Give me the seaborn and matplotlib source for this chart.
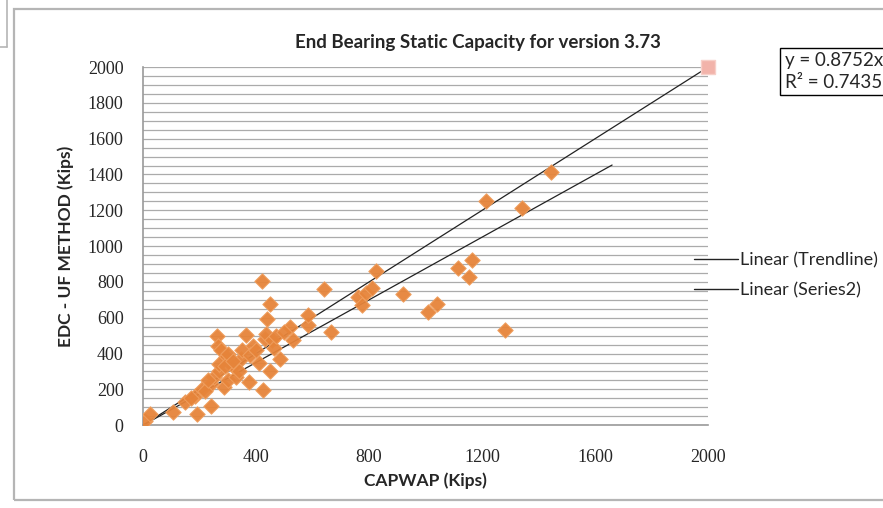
import matplotlib
matplotlib.use("Agg")
import matplotlib.pyplot as plt
import matplotlib.patches as mpatches
from matplotlib.lines import Line2D
import pandas as pd
import seaborn as sns

# CAPWAP vs EDC - UF method end bearing capacity (kips)
capwap = [7, 25, 105, 190, 240, 185, 210, 240, 250, 270, 285, 300, 330, 375, 425,
          260, 265, 275, 295, 310, 320, 345, 365, 390, 410, 430, 435, 440, 450, 455,
          465, 485, 520, 530, 585, 585, 420, 450, 640, 665, 760, 775, 790, 810, 825,
          920, 1010, 1040, 1115, 1155, 1165, 1215, 1280, 1340, 1445,
          150, 170, 220, 230, 270, 290, 300, 320, 340, 350, 380, 400, 470, 500]
edc = [25, 60, 75, 65, 105, 165, 200, 230, 270, 300, 215, 250, 270, 240, 195,
       500, 440, 420, 380, 350, 330, 370, 505, 440, 350, 480, 510, 595, 300, 475,
       430, 370, 550, 475, 560, 615, 805, 675, 760, 520, 715, 670, 740, 765, 860,
       730, 630, 675, 880, 830, 925, 1250, 530, 1215, 1415,
       130, 150, 190, 250, 340, 330, 400, 360, 300, 420, 390, 420, 500, 520]

# 1:1 reference series ("Trendline") and the fitted line through the origin
ref_x = [0, 2000]
ref_y = [0, 2000]
slope = 0.8752
r2 = 0.7435
fit_x = [0, 1660]
fit_y = [slope * v for v in fit_x]

x_ticks = [0, 400, 800, 1200, 1600, 2000]
y_ticks = [0, 200, 400, 600, 800, 1000, 1200, 1400, 1600, 1800, 2000]

df = pd.DataFrame({"CAPWAP": capwap, "EDC": edc})

sns.set_theme(style="white")
plt.rcParams["font.family"] = ["Lato", "DejaVu Sans"]

fig = plt.figure(figsize=(8.83, 5.08), dpi=100)
ax = fig.add_axes([0.162, 0.163, 0.640, 0.705])

# fine horizontal grid every 50 kips
for gy in range(0, 2001, 50):
    ax.axhline(gy, color="#ABABAB", lw=0.9, zorder=0)

sns.lineplot(x=ref_x, y=ref_y, ax=ax, color="#222222", lw=0.9, zorder=2)
sns.lineplot(x=fit_x, y=fit_y, ax=ax, color="#222222", lw=0.9, zorder=2)

sns.scatterplot(data=df, x="CAPWAP", y="EDC", ax=ax, marker="D", s=62,
                color="#E6843A", edgecolor="#F0A060", linewidth=0.7, alpha=0.95,
                zorder=3)
sns.scatterplot(x=ref_x[-1:], y=ref_y[-1:], ax=ax, marker="s", s=90,
                color="#F2B3AA", edgecolor="#F7CFC8", linewidth=1, zorder=3,
                clip_on=False)

ax.set_xlim(0, 2000)
ax.set_ylim(0, 2000)
ax.set_xticks(x_ticks)
ax.set_yticks(y_ticks)
ax.set_xticklabels([str(t) for t in x_ticks], family="Liberation Serif", fontsize=13)
ax.set_yticklabels([str(t) for t in y_ticks], family="Liberation Serif", fontsize=13)
ax.tick_params(axis="x", length=0, pad=17)
ax.tick_params(axis="y", length=0, pad=14)

for side in ["top", "right"]:
    ax.spines[side].set_visible(False)
for side in ["left", "bottom"]:
    ax.spines[side].set_color("#9A9A9A")
    ax.spines[side].set_linewidth(1.2)

ax.set_xlabel("CAPWAP (Kips)", fontsize=12.5, fontweight="bold", labelpad=5)
ax.set_ylabel("EDC - UF METHOD (Kips)", fontsize=12.5, fontweight="bold", labelpad=10)
ax.set_title("End Bearing Static Capacity for version 3.73", fontsize=13.5,
             fontweight="bold", pad=14, x=0.593)

handles = [Line2D([], [], color="#222222", lw=1),
           Line2D([], [], color="#222222", lw=1)]
fig.legend(handles, ["Linear (Trendline)", "Linear (Series2)"],
           loc="upper left", bbox_to_anchor=(0.768, 0.536), frameon=False,
           prop={"family": "Lato", "size": 13}, handlelength=2.4,
           handletextpad=0.15, labelspacing=0.8)

fig.text(0.889, 0.897, "y = 0.8752x\nR² = %.4f" % r2, ha="left", va="top",
         family="Lato", fontsize=13.5, linespacing=1.3,
         bbox=dict(boxstyle="square,pad=0.25", fc="white", ec="black", lw=1))

# chart area border and neighbouring frame
fig.add_artist(mpatches.Rectangle((0.016, 0.016), 0.99, 0.966,
                                  transform=fig.transFigure, fill=False,
                                  ec="#B5B5B5", lw=1.6))
fig.add_artist(Line2D([0, 0.008], [0.907, 0.907], transform=fig.transFigure,
                      color="#B5B5B5", lw=1.2))
fig.add_artist(Line2D([0.008, 0.008], [0.907, 1.0], transform=fig.transFigure,
                      color="#B5B5B5", lw=1.2))

fig.savefig("out.png", dpi=100, facecolor="white")
